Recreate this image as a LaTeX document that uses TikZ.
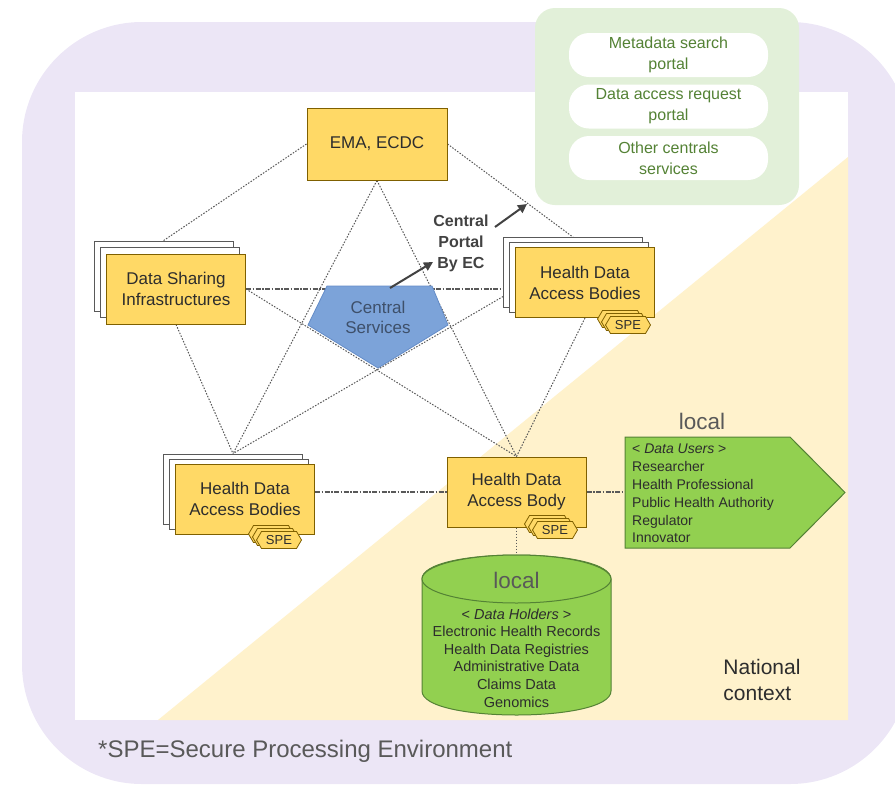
\documentclass[tikz,border=0pt]{standalone}
\usepackage{fontspec}
\setmainfont{Liberation Sans}
\usetikzlibrary{arrows.meta,calc}
\definecolor{lav}{RGB}{236,230,246}
\definecolor{paleY}{RGB}{255,242,204}
\definecolor{gbox}{RGB}{226,240,217}
\definecolor{gtext}{RGB}{84,130,53}
\definecolor{yfill}{RGB}{255,217,102}
\definecolor{ydraw}{RGB}{127,96,0}
\definecolor{lgreen}{RGB}{146,208,80}
\definecolor{dgreen}{RGB}{84,130,53}
\definecolor{pblue}{RGB}{124,163,217}
\definecolor{pbluedraw}{RGB}{100,140,200}
\definecolor{ptext}{RGB}{62,80,106}
\definecolor{lgray}{RGB}{89,89,89}
\definecolor{dtext}{RGB}{45,45,45}
\newcommand{\fsz}[2]{\fontsize{#1}{#2}\selectfont}
\pgfdeclarelayer{bglayer}
\pgfsetlayers{bglayer,main}
\tikzset{
  ybox/.style={draw=ydraw, fill=yfill, line width=1pt, minimum width=139pt, minimum height=70pt,
    align=center, font=\fsz{17}{21}, text=dtext, inner sep=0pt},
  wbox/.style={draw=lgray, fill=white, line width=0.8pt, minimum width=139pt, minimum height=70pt, inner sep=0pt},
  pill/.style={fill=white, rounded corners=20pt, minimum width=199pt, minimum height=44pt,
    align=center, text=gtext, font=\fsz{16}{21}, inner sep=0pt},
  dotline/.style={draw=lgray, line width=1pt, dash pattern=on 1.5pt off 1.5pt},
  dashdot/.style={draw=lgray, line width=1.1pt, dash pattern=on 5pt off 1.5pt on 1.5pt off 1.5pt},
  spehex/.style={draw=ydraw, fill=yfill, line width=0.8pt},
  spetext/.style={font=\fsz{13}{14}, text=dtext, inner sep=0pt},
  portalarrow/.style={draw=dtext!90, line width=2pt, -{Triangle[length=9pt,width=9pt]}},
}
\newcommand{\spebadge}[3]{%
  \foreach \dx/\dy in {-8/-6,-4/-3,0/0}{
    \draw[spehex] (#1+\dx-22.5,#2+\dy) -- ++(5,-8.5) -- ++(35,0) -- ++(5,8.5) -- ++(-5,8.5) -- ++(-35,0) -- cycle;}
  \node[spetext] (#3) at (#1,#2) {SPE};}
\begin{document}
\begin{tikzpicture}[x=1pt,y=-1pt]
\useasboundingbox (0,0) rectangle (895,785);
\clip (0,0) rectangle (895,785);
% stacked back boxes
\node[wbox] (dsib) at (163.5,276) {};
\node[wbox] (dsim) at (170,282.5) {};
\node[wbox] (hrb) at (573,272.5) {};
\node[wbox] (hrm) at (579,277.5) {};
\node[wbox] (hblb) at (233,489) {};
\node[wbox] (hblm) at (239,494) {};
% main boxes
\node[ybox, minimum width=140pt, minimum height=72pt] (ema) at (377,144) {EMA, ECDC};
\node[ybox] (dsi) at (176,289) {Data Sharing\\Infrastructures};
\node[ybox] (hr) at (585,282.5) {Health Data\\Access Bodies};
\node[ybox] (hbl) at (245,499) {Health Data\\Access Bodies};
\node[ybox] (hc) at (516.5,492) {Health Data\\Access Body};
\coordinate (usersW) at (625,492);
\coordinate (cylTop) at (516.5,555);
\begin{pgfonlayer}{bglayer}
% backgrounds
\fill[lav, rounded corners=120pt] (22,22) rectangle (910,784);
\fill[white] (75,92) rectangle (848,720);
\fill[paleY] (158,720) -- (848,157) -- (848,720) -- cycle;
\fill[gbox, rounded corners=20pt] (535,8) rectangle (799,205);
% connectors
\draw[dotline] (ema.west) -- (dsib.north);
\draw[dotline] (ema.east) -- (hrb.north);
\draw[dotline] (ema.south) -- (hblb.north);
\draw[dotline] (ema.south) -- (hc.north);
\draw[dotline] (dsi.south) -- (hblb.north);
\draw[dotline] (dsi.east) -- (hc.north);
\draw[dotline] ($(hrb.west)+(0,24)$) -- (hblb.north);
\draw[dotline] (hr.south) -- (hc.north);
\draw[dashdot] (dsi.east) -- (dsi.east -| hrb.west);
\draw[dashdot] (hc.west -| hbl.east) -- (hc.west);
\draw[dashdot] (hc.east) -- (usersW);
\draw[dotline] (hc.south) -- (cylTop);
\end{pgfonlayer}
\node[pill] (p1) at (668.5,55) {Metadata search\\portal};
\node[pill] (p2) at (668.5,106.5) {Data access request\\portal};
\node[pill] (p3) at (668.5,158) {Other centrals\\services};
% SPE badges
\spebadge{628}{325}{speR}
\spebadge{279}{540}{speL}
\spebadge{555}{530}{speC}
% central services pentagon
\draw[fill=pblue, draw=pbluedraw, line width=0.8pt] (327,286) -- (432,286) -- (448,325) -- (378,368) -- (308,325) -- cycle;
\node[text=ptext, font=\fsz{17}{20}, align=center] (cs) at (378,317) {Central\\Services};
% central portal
\coordinate (pa1) at (390,288);
\coordinate (pa1e) at (433,262);
\coordinate (pa2) at (495,227);
\coordinate (pa2e) at (527,204);
\node[font=\bfseries\fsz{16}{21}, text=dtext!90, align=center] (portal) at (461,243) {Central\\Portal\\By EC};
\draw[portalarrow] (pa1) -- (pa1e);
\draw[portalarrow] (pa2) -- (pa2e);
% data users
\draw[fill=lgreen, draw=dgreen, line width=1pt] (625,437) -- (790,437) -- (845,492.5) -- (790,548) -- (625,548) -- cycle;
\node[font=\fsz{22.5}{26}, text=lgray] (localU) at (702,421) {local};
\node[anchor=north west, align=left, font=\fsz{14}{17.8}, text=dtext, inner sep=0pt] (users) at (632,444)
  {< \textit{Data Users} >\\Researcher\\Health Professional\\Public Health Authority\\Regulator\\Innovator};
% cylinder
\draw[fill=lgreen, draw=dgreen, line width=1pt] (422,579) -- (422,691) .. controls (422,723) and (611,723) .. (611,691) -- (611,579) .. controls (611,547) and (422,547) .. cycle;
\draw[fill=lgreen, draw=dgreen, line width=1pt] (516.5,579) ellipse [x radius=94.5, y radius=24];
\node[font=\fsz{22.5}{26}, text=lgray] (localH) at (516.5,580) {local};
\node[align=center, font=\fsz{14.5}{17.6}, text=dtext, inner sep=0pt] (holders) at (516.5,658)
  {< \textit{Data Holders} >\\Electronic Health Records\\Health Data Registries\\Administrative Data\\Claims Data\\Genomics};
% labels
\node[font=\fsz{21}{26}, text=dtext, align=left] (nat) at (762,680) {National\\context};
\node[font=\fsz{24}{28}, text=lgray, anchor=west, inner sep=0pt] (spenote) at (98,751) {*SPE=Secure Processing Environment};
\end{tikzpicture}
\end{document}
